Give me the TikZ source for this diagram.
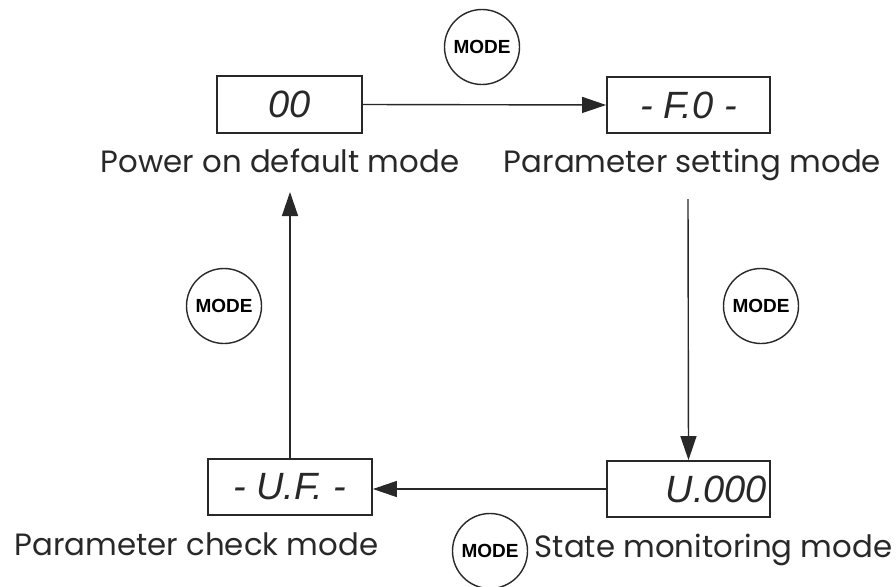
\documentclass[tikz,border=0pt]{standalone}
\usepackage{fontspec}
\usepackage{xcolor}
\usepackage{tikz}
\usetikzlibrary{arrows.meta, positioning}
\setmainfont{Poppins}
\newfontfamily\keyfont{Liberation Sans}
\newfontfamily\segfont{Liberation Sans}
\definecolor{inkgray}{RGB}{40, 40, 40}

\begin{document}
\begin{tikzpicture}[
    x=1pt, y=-1pt,
    display/.style={rectangle, draw=inkgray, line width=1.8pt, inner sep=0pt, font=\segfont\itshape\fontsize{38}{38}\selectfont, text=inkgray},
    keybtn/.style={circle, draw=inkgray, line width=1.4pt, minimum size=75pt, inner sep=0pt, font=\keyfont\bfseries\fontsize{19}{19}\selectfont},
    modename/.style={anchor=base, font=\fontsize{30.8}{36}\selectfont, text=inkgray},
    arrow/.style={-{Triangle[length=24pt, width=16pt]}, line width=1.4pt, draw=inkgray}
]
    \useasboundingbox (0,0) rectangle (896,586);

    % displays
    \node[display, minimum width=145pt, minimum height=57pt] (power) at (289.5,104.5) {00};
    \node[display, minimum width=163pt, minimum height=56pt] (setting) at (688.5,105) {- F.0 -};
    \node[display, minimum width=164pt, minimum height=56pt] (check) at (290,487) {- U.F. -};
    \node[display, minimum width=163pt, minimum height=56pt, text width=157pt, align=right] (monitor) at (688.5,489) {U.000};

    % mode names
    \node[modename] (powername) at (280,172) {Power on default mode};
    \node[modename] (settingname) at (692.5,172) {Parameter setting mode};
    \node[modename] (checkname) at (196.5,555) {Parameter check mode};
    \node[modename] (monitorname) at (713.5,557) {State monitoring mode};

    % MODE keys
    \node[keybtn] (keytop) at (482,47) {MODE};
    \node[keybtn] (keyright) at (761,306) {MODE};
    \node[keybtn] (keybottom) at (490,551) {MODE};
    \node[keybtn] (keyleft) at (224,306) {MODE};

    \coordinate (rightstart) at (688,199);
    \coordinate (leftend) at (290,192);

    \draw[arrow] (power.east) -- (setting.west);
    \draw[arrow] (rightstart) -- (monitor.north);
    \draw[arrow] (monitor.west) -- (check.east |- monitor.west);
    \draw[arrow] (check.north) -- (leftend);
\end{tikzpicture}
\end{document}
